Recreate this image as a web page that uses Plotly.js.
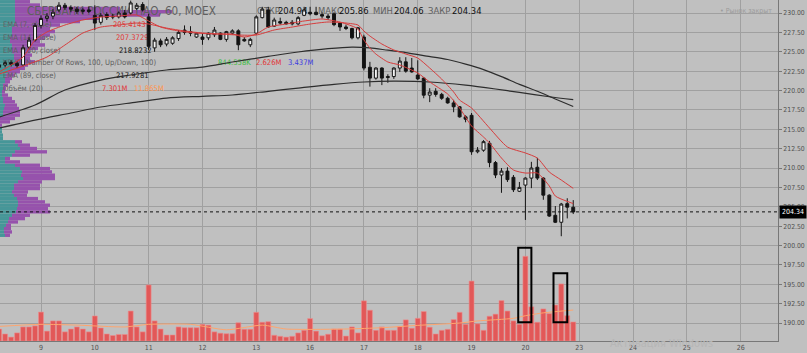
<!DOCTYPE html>
<html><head><meta charset="utf-8">
<script src="https://cdn.plot.ly/plotly-3.0.1.min.js"></script>
<style>html,body{margin:0;padding:0;background:rgb(192,192,192);}#chart{width:807px;height:353px;}</style>
</head><body><div id="chart"></div>
<script>
// ---- data (hourly bars, MOEX SBER) ----
const dayTicks = ['9','10','11','12','13','16','17','18','19','20','23','24','25','26'];
const dayTickIdx = [7,16,25,34,43,52,61,70,79,88,97,106,115,124];
const open  = [223.0,223.3,223.6,223.5,223.3,225.6,226.5,
 228.4,229.3,229.6,230.4,231.0,230.7,230.5,230.2,230.4,
 229.7,228.8,229.8,229.6,229.5,230.0,230.0,230.6,231.1,
 229.5,225.5,226.4,226.0,226.1,226.7,227.8,227.6,226.9,
 226.9,226.8,227.2,227.4,226.6,227.4,227.7,226.6,225.9,
 227.4,229.4,230.4,228.3,228.9,228.8,228.8,228.6,229.7,
 230.1,230.1,229.8,229.6,229.9,228.7,228.2,228.0,226.8,
 226.9,223.0,221.6,222.9,221.8,221.8,222.9,223.7,222.9,
 222.0,221.6,219.4,219.9,219.5,219.0,218.4,217.9,216.6,
 216.8,212.1,212.3,213.2,210.7,209.1,209.6,208.8,207.0,
 207.8,208.7,210.1,208.7,206.5,203.9,203.0,205.4,204.94];
const high  = [223.6,223.9,223.9,223.8,225.9,226.9,228.7,
 229.7,230.0,230.5,231.4,231.3,231.0,230.8,230.7,230.8,
 231.0,230.0,230.1,229.9,230.2,230.4,231.6,231.3,231.4,
 229.9,226.8,226.7,226.9,227.0,227.8,228.4,228.3,227.5,
 227.4,227.5,228.2,227.5,227.7,227.9,227.9,226.9,226.8,
 229.7,230.8,230.8,229.4,229.4,229.0,229.1,229.6,230.8,
 230.8,230.8,230.1,229.9,230.1,228.8,228.5,228.1,228.2,
 227.2,223.7,223.0,223.0,222.1,223.0,224.3,224.3,224.2,
 223.9,221.7,220.3,220.3,219.7,219.2,218.8,218.0,216.8,
 217.1,212.7,213.6,213.5,210.9,210.0,210.1,209.1,208.2,
 208.8,210.8,211.3,208.8,206.6,205.1,205.5,206.1,205.86];
const low   = [222.8,223.0,223.1,222.9,223.1,225.3,226.3,
 228.0,228.9,229.2,230.1,230.4,230.1,229.9,229.9,230.0,
 227.8,228.5,229.1,229.2,229.3,229.3,229.8,230.4,230.2,
 225.2,225.0,225.6,225.7,225.9,226.4,227.2,227.0,226.8,
 225.9,226.5,226.9,226.5,226.3,227.2,225.2,226.3,225.6,
 227.2,229.3,228.1,228.2,228.5,228.5,228.4,228.4,229.6,
 229.7,229.7,229.3,229.1,228.3,227.7,227.8,226.6,226.6,
 222.6,220.5,221.4,220.7,221.0,221.5,222.4,222.3,222.3,
 221.35,219.0,218.5,219.2,218.8,218.3,217.2,216.5,215.9,
 211.7,211.9,212.1,210.1,208.7,206.8,208.2,206.9,206.9,
 203.3,207.4,208.45,205.9,203.7,202.9,201.2,203.5,204.06];
const close = [223.3,223.6,223.4,223.2,225.5,226.5,228.4,
 229.3,229.6,230.1,231.0,230.7,230.5,230.2,230.4,230.2,
 228.7,229.7,229.4,229.5,230.0,229.5,231.3,231.0,230.4,
 225.7,226.5,225.9,226.6,226.8,227.5,227.5,227.4,227.4,
 226.6,227.4,227.8,226.6,227.6,227.7,225.9,226.4,226.6,
 229.5,230.5,228.2,229.1,228.7,228.6,228.6,229.4,230.4,
 229.9,229.8,229.6,229.4,228.5,228.2,228.0,226.8,228.1,
 222.9,221.6,222.9,221.6,221.7,222.9,223.8,222.5,222.4,
 221.5,219.4,219.8,219.5,219.0,218.4,217.9,216.6,216.3,
 212.1,212.3,213.4,210.7,209.1,209.6,208.5,207.2,207.5,
 208.7,210.0,208.7,206.5,203.8,203.0,205.35,204.95,204.34];
// volume, millions
const volume = [4.6,2.7,1.5,3.1,5.4,5.4,5.8,
 11.1,3.8,7.7,7.7,3.5,4.6,5.4,4.6,3.5,
 9.6,5.0,2.7,2.1,2.5,2.5,11.5,5.4,3.5,
 21.5,7.7,4.6,2.3,2.3,5.4,5.1,5.1,5.1,
 6.4,6.1,3.5,3.0,2.8,2.8,7.0,4.5,4.5,
 11.0,7.2,7.4,2.2,1.8,1.5,1.8,3.1,4.1,
 8.6,3.8,2.0,2.6,4.6,4.6,1.9,5.4,3.1,
 15.4,11.8,4.1,5.4,4.1,4.1,5.6,8.1,4.9,
 8.7,11.3,5.3,2.7,4.1,4.5,8.2,11.0,6.4,
 23.0,6.6,4.1,9.5,10.3,15.5,11.5,7.7,6.4,
 32.5,13.1,7.2,12.3,10.5,13.8,21.9,9.7,7.3];
// volume MA(20), millions
const volMAIdx = [0,7,13,21,25,32,38,44,48,58,64,70,77,80,86,88,91,96];
const volMA    = [5.6,6.4,6.1,5.4,6.4,6.4,4.3,6.1,4.6,4.6,5.1,6.0,6.9,7.7,8.7,9.7,10.8,11.9];
// EMA lines
const ema7Idx = [0,4,6,8,11,14,17,20,23,25,27,30,33,36,39,41,43,45,48,51,54,57,59,60,61,62,63,65,67,70,72,75,77,79,81,82,84,86,88,90,92,93,96];
const ema7    = [222.39,224.32,226.52,227.55,228.45,229.10,229.48,229.61,229.74,228.97,228.19,227.68,227.42,227.29,227.29,226.90,227.29,228.19,228.58,228.97,229.23,228.84,228.32,227.94,226.52,225.48,224.71,223.68,223.29,222.26,221.10,219.55,217.74,215.42,214.0,213.23,211.29,209.74,209.35,209.35,207.68,206.39,205.41];
const ema14Idx = [0,4,8,11,14,17,20,23,25,28,31,34,37,40,43,46,49,52,55,58,60,61,62,64,66,68,70,72,74,76,77,79,82,85,88,90,92,94,96];
const ema14    = [222.13,223.16,224.32,225.87,227.42,228.19,228.45,228.71,228.58,228.06,227.68,227.42,227.29,227.16,227.16,227.81,228.19,228.58,228.84,228.71,228.45,227.68,227.03,226.0,225.23,224.71,224.19,222.90,221.48,219.81,218.77,217.74,215.16,212.71,211.94,211.29,209.48,208.45,207.37];
const emaFastBlackIdx = [0,6,11,17,22,28,34,39,45,50,55,59,62,65,68,71,75,78,81,84,87,90,93,96];
const emaFastBlack    = [216.58,218.13,220.06,221.35,222.0,222.65,223.03,223.68,224.4,224.97,225.4,225.6,225.5,225.2,224.9,224.5,224.0,223.4,222.7,221.8,220.8,219.9,218.9,217.93];
const emaSlowBlackIdx = [0,6,12,17,23,28,34,39,45,50,56,61,66,72,78,83,87,92,96];
const emaSlowBlack    = [215.16,216.19,217.1,217.87,218.5,219.03,219.25,219.42,219.9,220.32,220.8,221.1,221.2,221.1,220.7,220.2,219.75,219.2,218.82];
// volume profile (rows by price): up / down volume, px-scaled units
const profilePrice = [231.46,231.03,230.60,230.17,229.74,229.31,228.88,228.45,228.02,227.59,227.16,226.73,226.30,225.87,225.43,225.00,224.57,224.14,223.71,223.28,222.85,222.42,221.99,221.56,221.13,220.70,220.27,219.84,219.41,218.98,218.55,218.11,217.68,217.25,216.82,216.39,215.96,215.53,215.10,214.67,214.24,213.81,213.38,212.95,212.52,212.09,211.66,211.23,210.79,210.36,209.93,209.50,209.07,208.64,208.21,207.78,207.35,206.92,206.49,206.06,205.63,205.20,204.77,204.34,203.90,203.47,203.04,202.61,202.18,201.75,201.32];
const profileUp   = [15,15,15,15,15,15,15,14,12,12,12,10,10,12,12,12,14,14,15,14,10,8,6,5,5,3,3,2,2,3,3,5,4,3,3,0,0,0,2,2,3,3,15,18,20,15,12,5,5,15,20,22,21,23,18,14,14,12,14,17,18,18,17,16,12,9,8,6,4,4,5];
const profileDown = [15,25,105,157,145,85,65,46,38,43,38,35,30,33,26,18,18,16,20,14,15,12,9,7,5,5,3,3,6,9,12,12,15,17,17,15,10,2,0,0,0,0,7,12,17,32,18,5,15,25,30,30,34,32,24,26,26,16,13,21,27,32,31,34,18,16,10,5,7,8,5];
const lastClose = 204.34;
const hiBoxes = [[86.8,89.0,7.2,35.8],[92.7,95.0,7.2,26.0]];

// ---- geometry helpers ----
const Y_BOT = 187.68, Y_TOP = 231.68, PLOT_H = 341, PLOT_W = 778;
const pyToPrice = py => Y_TOP - py*(Y_TOP-Y_BOT)/PLOT_H;
const idx = open.map((_,i)=>i);
const FONT = 'Liberation Sans Narrow, DejaVu Sans Condensed, Arial Narrow, sans-serif';
const GREY = 'rgb(95,95,95)';

// text rows of the legend: [text, x px, y px, colour, size]
const labels = [
 ['СБЕРБАНК РОССИИ ПАО, 60, MOEX',27,12,GREY,11.6],
 ['ОТКР',257,12,GREY,9.4],['204.94',278,12,'#111',9.4],
 ['МАКС',318,12,GREY,9.4],['205.86',339,12,'#111',9.4],
 ['МИН',373,12,GREY,9.4],['204.06',394,12,'#111',9.4],
 ['ЗАКР',428,12,GREY,9.4],['204.34',452,12,'#111',9.4],
 ['EMA (7, close)',3,25,GREY,7.6],['205.4143',113,25,'rgb(225,55,55)',7.6],
 ['EMA (14, close)',3,38,GREY,7.6],['207.3729',116,38,'rgb(225,55,55)',7.6],
 ['EMA (200, close)',3,51,GREY,7.6],['218.8232',119,51,'#111',7.6],
 ['VPVR (Number Of Rows, 100, Up/Down, 100)',3,63,GREY,7.6],['844.558K',218,63,'rgb(60,190,60)',7.6],['2.626M',256,63,'rgb(225,55,55)',7.6],['3.437M',288,63,'rgb(60,60,225)',7.6],
 ['EMA (89, close)',3,76,GREY,7.6],['217.9281',116,76,'#111',7.6],
 ['Объём (20)',3,89,GREY,7.6],['7.301M',102,89,'rgb(225,55,55)',7.6],['11.865M',134,89,'rgb(255,150,80)',7.6]
];

const traces = [
 {type:'bar',orientation:'h',xaxis:'x',yaxis:'y',y:profilePrice,x:profileUp,base:0,width:0.4307,
  marker:{color:'rgb(70,150,152)',line:{width:0}},hoverinfo:'skip'},
 {type:'bar',orientation:'h',xaxis:'x',yaxis:'y',y:profilePrice,x:profileDown,base:profileUp,width:0.4307,
  marker:{color:'rgb(150,82,172)',line:{width:0}},hoverinfo:'skip'},
 {type:'scatter',mode:'text',xaxis:'x',yaxis:'y',cliponaxis:false,
  x:labels.map(l=>l[1]),y:labels.map(l=>pyToPrice(l[2])),text:labels.map(l=>l[0]),
  textposition:'middle right',textfont:{family:FONT,color:labels.map(l=>l[3]),size:labels.map(l=>l[4])},hoverinfo:'skip'},
 {type:'bar',xaxis:'x2',yaxis:'y2',x:idx,y:volume,width:0.82,
  marker:{color:'rgb(226,88,88)',line:{color:'rgb(240,140,140)',width:0.6}}},
 {type:'scatter',mode:'lines',xaxis:'x2',yaxis:'y2',x:volMAIdx,y:volMA,line:{color:'rgb(255,165,110)',width:1,shape:'spline',smoothing:0.6}},
 {type:'candlestick',xaxis:'x2',yaxis:'y',x:idx,open:open,high:high,low:low,close:close,
  increasing:{line:{color:'#151515',width:1},fillcolor:'#f4f4f4'},
  decreasing:{line:{color:'#151515',width:1},fillcolor:'#111'}},
 {type:'scatter',mode:'lines',xaxis:'x2',yaxis:'y',x:emaSlowBlackIdx,y:emaSlowBlack,line:{color:'rgb(45,45,45)',width:1.2,shape:'spline',smoothing:0.8}},
 {type:'scatter',mode:'lines',xaxis:'x2',yaxis:'y',x:emaFastBlackIdx,y:emaFastBlack,line:{color:'rgb(45,45,45)',width:1.2,shape:'spline',smoothing:0.8}},
 {type:'scatter',mode:'lines',xaxis:'x2',yaxis:'y',x:ema14Idx,y:ema14,line:{color:'rgb(215,60,60)',width:1,shape:'spline',smoothing:0.6}},
 {type:'scatter',mode:'lines',xaxis:'x2',yaxis:'y',x:ema7Idx,y:ema7,line:{color:'rgb(215,60,60)',width:1,shape:'spline',smoothing:0.6}}
];

const GRID = 'rgb(160,160,160)';
const priceTicks = [190,192.5,195,197.5,200,202.5,205,207.5,210,212.5,215,217.5,220,222.5,225,227.5,230];
const layout = {
 width:807,height:353,margin:{l:0,r:29,t:0,b:12,pad:0},
 paper_bgcolor:'rgb(192,192,192)',plot_bgcolor:'rgb(192,192,192)',
 showlegend:false,barmode:'overlay',hovermode:false,
 font:{family:FONT,color:'rgb(85,85,85)'},
 xaxis:{range:[0,PLOT_W],visible:false,fixedrange:true},
 xaxis2:{overlaying:'x',anchor:'y',range:[0.144,130.24],tickmode:'array',tickvals:dayTickIdx,ticktext:dayTicks,
  showgrid:true,gridcolor:GRID,gridwidth:1,zeroline:false,showline:true,linecolor:'rgb(120,120,120)',linewidth:1,
  ticks:'',tickfont:{size:7,family:FONT,color:'rgb(80,80,80)'},rangeslider:{visible:false},automargin:false},
 yaxis:{side:'right',range:[Y_BOT,Y_TOP],tickmode:'array',tickvals:priceTicks,tickformat:'.2f',
  showgrid:true,gridcolor:GRID,gridwidth:1,zeroline:false,showline:true,linecolor:'rgb(120,120,120)',linewidth:1,
  ticks:'outside',ticklen:3,tickcolor:'rgb(120,120,120)',tickfont:{size:6.8,family:FONT,color:'rgb(80,80,80)'},automargin:false},
 yaxis2:{overlaying:'y',range:[0,130.9],visible:false},
 shapes:[
  {type:'line',xref:'paper',x0:0,x1:1,yref:'y',y0:lastClose,y1:lastClose,line:{color:'#111',width:1,dash:'dot'}},
  ...hiBoxes.map(b=>({type:'rect',xref:'x2',yref:'y2',x0:b[0],x1:b[1],y0:b[2],y1:b[3],line:{color:'#000',width:2}}))
 ],
 annotations:[
  {xref:'paper',yref:'y',x:779/PLOT_W,y:lastClose,xanchor:'left',yanchor:'middle',text:'204.34',showarrow:false,
   bgcolor:'#000',font:{color:'#fff',size:7,family:FONT},borderpad:2},
  {xref:'paper',yref:'paper',x:718/PLOT_W,y:1-11/PLOT_H,xanchor:'left',yanchor:'middle',text:'• Рынок закрыт',showarrow:false,
   font:{color:'rgb(155,155,155)',size:7,family:FONT}},
  {xref:'paper',yref:'paper',x:608/PLOT_W,y:1-343/PLOT_H,xanchor:'left',yanchor:'middle',text:'Активация Windows',showarrow:false,
   font:{color:'rgb(182,182,182)',size:11,family:FONT}}
 ]
};
Plotly.newPlot('chart',traces,layout,{displayModeBar:false,staticPlot:true});
</script></body></html>
